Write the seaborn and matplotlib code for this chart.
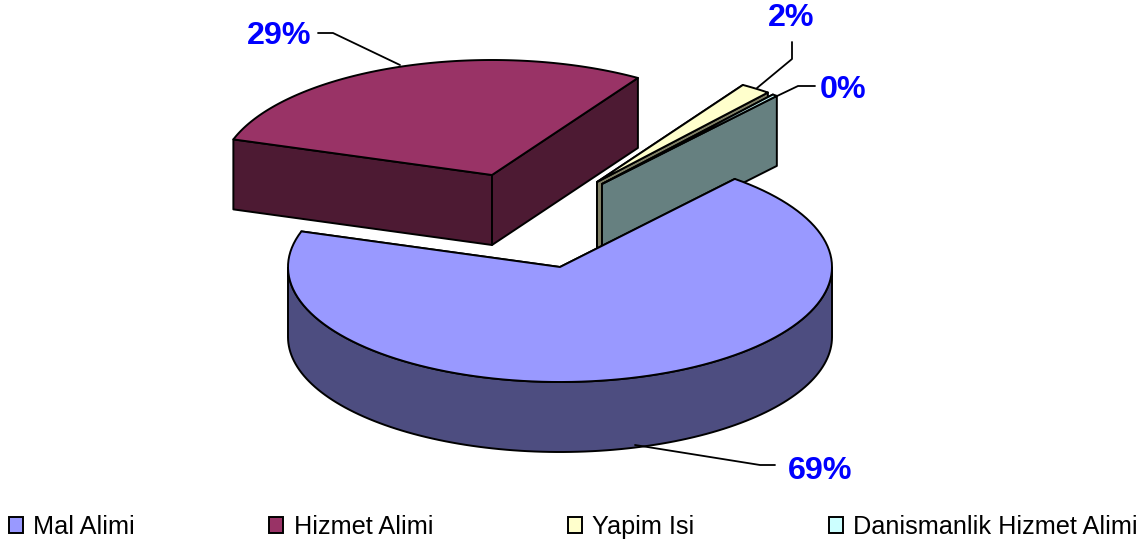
import numpy as np
import matplotlib
matplotlib.use('Agg')
import matplotlib.pyplot as plt
from matplotlib.patches import Patch
import seaborn as sns

# Data
categories = ['Mal Alimi', 'Hizmet Alimi', 'Yapim Isi', 'Danismanlik Hizmet Alimi']
values = [68.9, 29.0, 1.8, 0.3]
pct_labels = ['69%', '29%', '2%', '0%']
top_colors = ['#9999FF', '#993366', '#FFFFCC', '#CCFFFF']
side_colors = ['#4D4D80', '#4D1A33', '#808066', '#668080']

# Pie layout in pixels (exploded slice centres)
centers = [(560, 267), (492, 175), (597, 182), (602, 184)]
rx, ry, depth = 272, 115, 70
start_angle = 50
draw_order = [1, 2, 3, 0]

# Leader lines and label positions
leaders = [[(775, 465), (760, 465), (635, 445)],
           [(318, 33), (333, 33), (400, 65)],
           [(792, 42), (792, 59), (757, 88)],
           [(815, 86), (798, 86), (775, 97)]]
label_pos = [(820, 471), (279, 36), (791, 18), (843, 90)]

sns.set_theme(style='white')
plt.rcParams['font.family'] = ['Liberation Sans', 'DejaVu Sans']

fig = plt.figure(figsize=(11.43, 5.44), dpi=100)
ax = fig.add_axes([0, 0, 1, 1])
ax.set_xlim(0, 1143)
ax.set_ylim(544, 0)
ax.axis('off')

# slices run clockwise from the start angle
sweeps = np.array(values) / sum(values) * 360
ends = start_angle - np.cumsum(sweeps)
starts = ends + sweeps


def rim(i, a0, a1, n=120):
    a = np.radians(np.linspace(a0, a1, n))
    return centers[i][0] + rx * np.cos(a), centers[i][1] - ry * np.sin(a)


for i in draw_order:
    cx, cy = centers[i]
    # cut walls
    for a in (starts[i], ends[i]):
        ex, ey = rim(i, a, a, 1)
        ax.fill([cx, ex[0], ex[0], cx], [cy, ey[0], ey[0] + depth, cy + depth],
                fc=side_colors[i], ec='black', lw=1.4, joinstyle='round')
    # outer wall, front half only
    a0, a1 = min(starts[i], 0), max(ends[i], -180)
    if a0 > a1:
        x, y = rim(i, a0, a1)
        ax.fill(np.r_[x, x[::-1]], np.r_[y, y[::-1] + depth],
                fc=side_colors[i], ec='black', lw=1.4)
    # top face
    x, y = rim(i, starts[i], ends[i])
    ax.fill(np.r_[cx, x], np.r_[cy, y], fc=top_colors[i], ec='black', lw=1.4, joinstyle='round')

for pts, lab, pos in zip(leaders, pct_labels, label_pos):
    ax.plot(*zip(*pts), color='black', lw=1.3)
    ax.text(pos[0], pos[1], lab, color='#0000FF', fontsize=23.2, fontweight='bold',
            ha='center', va='center')

handles = [Patch(fc=c, ec='black', lw=1.4) for c in top_colors]
ax.legend(handles, categories, ncol=4, loc='lower left', bbox_to_anchor=(9 / 1143, 5 / 544),
          frameon=False, fontsize=18.2, labelcolor='black', handlelength=0.55, handleheight=0.55,
          handletextpad=0.4, columnspacing=5.33, borderpad=0, borderaxespad=0)

fig.savefig('out.png', dpi=100)
